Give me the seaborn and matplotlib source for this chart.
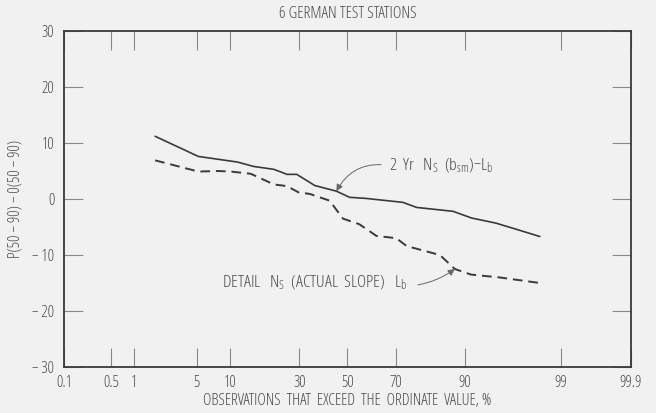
import numpy as np
import pandas as pd
import matplotlib
matplotlib.use("Agg")
import matplotlib.pyplot as plt
import seaborn as sns
from statistics import NormalDist

# ---- data ----
solid_x = [1.8, 5.2, 7.9, 11.5, 15.4, 21.1, 25.5, 29.0, 36.1, 45.2, 50.9, 58.1,
           72.7, 77.4, 87.5, 91.2, 94.7, 96.7, 98.2]
solid_y = [11.2, 7.6, 7.1, 6.6, 5.8, 5.3, 4.4, 4.4, 2.4, 1.4, 0.3, 0.1,
           -0.6, -1.5, -2.2, -3.4, -4.3, -5.4, -6.7]
dash_x = [1.8, 5.2, 7.9, 10.2, 14.6, 21.1, 25.5, 29.6, 34.1, 42.3, 48.0, 55.1,
          62.4, 70.3, 74.0, 84.3, 87.9, 91.1, 95.1, 98.2]
dash_y = [6.9, 4.9, 5.0, 4.9, 4.5, 2.6, 2.3, 1.2, 0.9, -0.3, -3.5, -4.5,
          -6.6, -7.0, -8.4, -10.0, -12.5, -13.5, -14.0, -15.0]
x_ticks = [0.1, 0.5, 1, 5, 10, 30, 50, 70, 90, 99, 99.9]
x_ticklabels = ["0.1", "0.5", "1", "5", "10", "30", "50", "70", "90", "99", "99.9"]
y_ticks = [-30, -20, -10, 0, 10, 20, 30]
y_ticklabels = ["\u2212 30", "\u2212 20", "\u2212 10", "0", "10", "20", "30"]

title = "6 GERMAN TEST STATIONS"
xlabel = "OBSERVATIONS  THAT  EXCEED  THE  ORDINATE  VALUE, %"
ylabel = "P(50 \u2212 90) \u2212 0(50 \u2212 90)"
label_solid = r"2  Yr   N$_\mathrm{S}$  (b$_\mathrm{sm}$)" + "\u2212" + r"L$_\mathrm{b}$"
label_dash = r"DETAIL   N$_\mathrm{S}$  (ACTUAL  SLOPE)   L$_\mathrm{b}$"

sns.set_theme(style="white")
plt.rcParams["font.family"] = ["Open Sans", "DejaVu Sans"]
plt.rcParams["font.stretch"] = "condensed"
plt.rcParams["mathtext.fontset"] = "custom"
plt.rcParams["mathtext.rm"] = "Open Sans:stretch=condensed"
plt.rcParams["mathtext.it"] = "Open Sans:stretch=condensed"
plt.rcParams["mathtext.bf"] = "Open Sans:stretch=condensed"

BG = "#f1f1f1"
INK = "#3a3a3a"
TXT = "#4a4a4a"
FS = 11.5
FS_ANN = 12.5

_nd = NormalDist()
_ppf = np.vectorize(lambda p: _nd.inv_cdf(min(max(p / 100.0, 1e-9), 1 - 1e-9)),
                    otypes=[float])
_cdf = np.vectorize(lambda z: _nd.cdf(z) * 100.0, otypes=[float])

def fwd(p):
    return _ppf(np.asarray(p, dtype=float))

def inv(z):
    return _cdf(np.asarray(z, dtype=float))

fig = plt.figure(figsize=(6.56, 4.13), dpi=100, facecolor=BG)
ax = fig.add_axes([64 / 656, 1 - 367 / 413, (631 - 64) / 656, (367 - 31) / 413])
ax.set_facecolor(BG)
ax.set_xscale("function", functions=(fwd, inv))

df_s = pd.DataFrame({"x": solid_x, "y": solid_y})
df_d = pd.DataFrame({"x": dash_x, "y": dash_y})
sns.lineplot(data=df_s, x="x", y="y", ax=ax, color=INK, lw=1.2, sort=False)
sns.lineplot(data=df_d, x="x", y="y", ax=ax, color=INK, lw=1.4, sort=False,
             linestyle=(0, (5, 3)))

ax.set_xlim(0.1, 99.9)
ax.set_ylim(-30, 30)
ax.set_xticks(x_ticks)
ax.set_xticklabels(x_ticklabels)
ax.set_yticks(y_ticks)
ax.set_yticklabels(y_ticklabels)
ax.xaxis.set_minor_locator(matplotlib.ticker.NullLocator())
ax.tick_params(axis="both", direction="in", length=14, width=0.8, color="#888888",
               labelsize=FS, labelcolor=TXT, top=True, right=True, bottom=True, left=True)
ax.tick_params(axis="x", pad=6)
ax.tick_params(axis="y", pad=7)
for s in ax.spines.values():
    s.set_color(INK)
    s.set_linewidth(1.3)
    s.set_visible(True)

ax.set_title(title, fontsize=11.8, color=TXT, pad=9)
ax.set_xlabel(xlabel, fontsize=FS, color=TXT, labelpad=1)
ax.set_ylabel(ylabel, fontsize=FS, color=TXT, labelpad=6)

ax.annotate(label_solid,
            xy=(45.2, 1.4), xytext=(67.3, 6.0), fontsize=FS_ANN, color=TXT,
            ha="left", va="center",
            arrowprops=dict(arrowstyle="-|>", color="#666666", lw=0.7,
                            connectionstyle="arc3,rad=0.35", shrinkA=3, shrinkB=0,
                            mutation_scale=10, relpos=(0.0, 0.5)))
ax.annotate(label_dash,
            xy=(87.9, -12.5), xytext=(74.0, -14.9), fontsize=FS_ANN, color=TXT,
            ha="right", va="center",
            arrowprops=dict(arrowstyle="-|>", color="#666666", lw=0.7,
                            connectionstyle="arc3,rad=0.15", shrinkA=6, shrinkB=0,
                            mutation_scale=10, relpos=(1.0, 0.3)))

fig.savefig("out.png", dpi=100, facecolor=BG)
